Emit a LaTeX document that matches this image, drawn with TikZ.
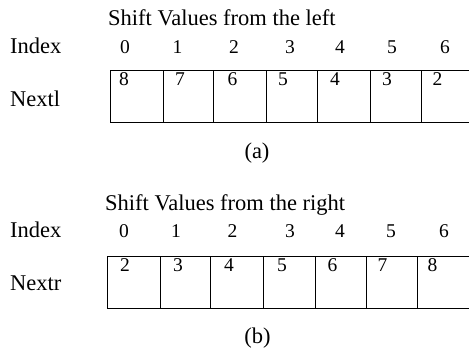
\documentclass[tikz,border=0pt]{standalone}
\usepackage{fontspec}
\setmainfont{Liberation Serif}
\begin{document}
\begin{tikzpicture}[x=1pt,y=-1pt,
  cell/.style={draw, line width=1pt, inner sep=0pt, outer sep=0pt, anchor=north west, minimum height=52pt},
  lbl/.style={inner sep=0pt, anchor=base west, font=\fontsize{22.5}{26}\selectfont},
  captxt/.style={inner sep=0pt, anchor=base, font=\fontsize{22.5}{26}\selectfont},
  dig/.style={inner sep=0pt, anchor=base, font=\fontsize{19.5}{23}\selectfont}]
\useasboundingbox (0,0) rectangle (469,349);
% ---------- (a) ----------
\node[lbl] (titleA) at (108,25) {Shift Values from the left};
\node[lbl] (indexA) at (10,53) {Index};
\node[lbl] (nextl) at (10,106) {Nextl};
\foreach \i/\x in {0/125,1/177.5,2/234,3/290,4/340,5/392,6/445}
  \node[dig] (ia\i) at (\x,53) {\i};
\node[cell, minimum width=53.3pt] (a0) at (110,70) {};
\node[cell, minimum width=50.2pt] (a1) at (163.3,70) {};
\node[cell, minimum width=52.8pt] (a2) at (213.5,70) {};
\node[cell, minimum width=50.7pt] (a3) at (266.3,70) {};
\node[cell, minimum width=53pt]   (a4) at (317,70) {};
\node[cell, minimum width=51.3pt] (a5) at (370,70) {};
\node[cell, minimum width=54pt]   (a6) at (421.3,70) {};
\foreach \v/\x in {8/124,7/180,6/232.5,5/283,4/335,3/387,2/437.5}
  \node[dig] at (\x,85) {\v};
\node[captxt] (capa) at (257,158) {(a)};
% ---------- (b) ----------
\node[lbl] (titleB) at (105,210) {Shift Values from the right};
\node[lbl] (indexB) at (10,237) {Index};
\node[lbl] (nextr) at (10,290) {Nextr};
\foreach \i/\x in {0/124,1/176,2/232.5,3/290,4/340,5/391,6/444}
  \node[dig] (ib\i) at (\x,237) {\i};
\node[cell, minimum width=53pt]   (b0) at (107,256) {};
\node[cell, minimum width=50.7pt] (b1) at (160,256) {};
\node[cell, minimum width=52.6pt] (b2) at (210.7,256) {};
\node[cell, minimum width=51.7pt] (b3) at (263.3,256) {};
\node[cell, minimum width=51.7pt] (b4) at (315,256) {};
\node[cell, minimum width=50.8pt] (b5) at (366.7,256) {};
\node[cell, minimum width=58pt]   (b6) at (417.5,256) {};
\foreach \v/\x in {2/125,3/178,4/229,5/282,6/332.5,7/382.5,8/432.5}
  \node[dig] at (\x,271) {\v};
\node[captxt] (capb) at (257.5,343) {(b)};
\end{tikzpicture}
\end{document}
